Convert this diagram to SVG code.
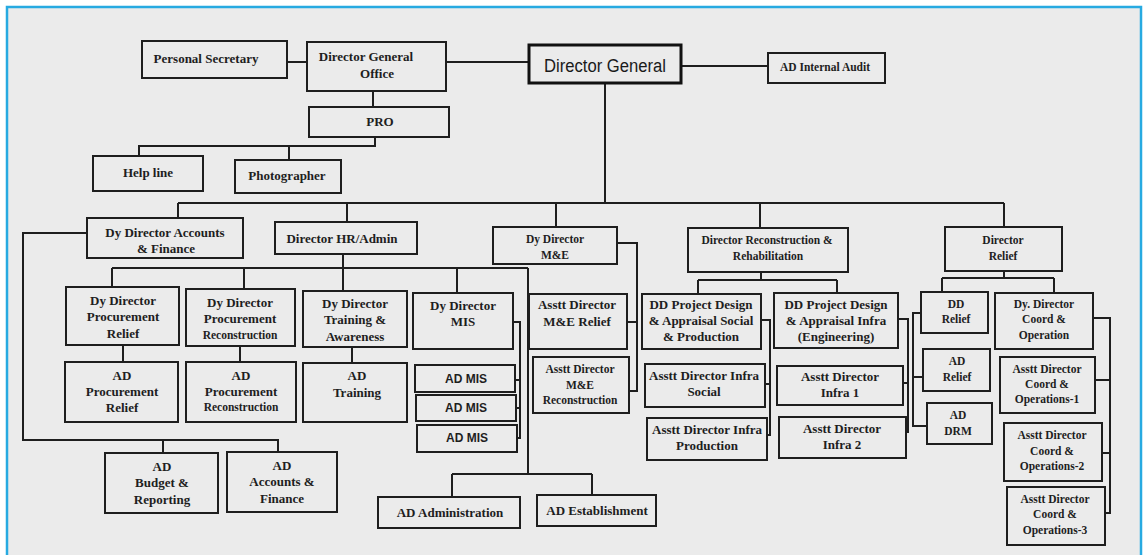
<svg xmlns="http://www.w3.org/2000/svg" width="1148" height="555" viewBox="0 0 1148 555">
<style>
.bx{fill:none;stroke:#1e1e1e;stroke-width:2}
.c{fill:none;stroke:#1e1e1e;stroke-width:2}
.t{font-family:"Liberation Serif",serif;font-weight:bold;font-size:13px;fill:#1e1e1e;text-anchor:middle}
.sm{font-size:11.5px}
.sa{font-family:"Liberation Sans",sans-serif;font-size:12px}
</style>
<rect x="0" y="0" width="1148" height="555" fill="#ffffff"/>
<rect x="7" y="7" width="1134" height="560" fill="#ebebeb" stroke="#27aae1" stroke-width="2.5"/>

<g id="connectors">
<path class="c" d="M287 62H307"/>
<path class="c" d="M446 62H529"/>
<path class="c" d="M681 66H768"/>
<path class="c" d="M373 91V107"/>
<path class="c" d="M375 137V146H139V156M289 146V160"/>
<path class="c" d="M605 83V203"/>
<path class="c" d="M178 203H1004M178 203V218M347 203V222M556 203V227M760 203V228M1004 203V227"/>
<path class="c" d="M87 233H23V440H278V452M163 440V453"/>
<path class="c" d="M343 254V291M112 268H528M112 268V287M244 268V289M457 268V293M528 268V474M452 474H592M452 474V497M592 474V495"/>
<path class="c" d="M123 345V362M240 346V362M352 347V363"/>
<path class="c" d="M513 322H520V438H517M515 380H520M516 408H520"/>
<path class="c" d="M617 243H637V391H629M627 322H637"/>
<path class="c" d="M761 272V280M698 280H837M698 280V294M837 280V293"/>
<path class="c" d="M761 320H770V435H767M765 384H770"/>
<path class="c" d="M898 319H908V432H906M903 383H908"/>
<path class="c" d="M1004 271V278M942 278H1054M942 278V292M1054 278V293"/>
<path class="c" d="M921 313H913V426H927M913 377H923"/>
<path class="c" d="M1093 318H1110V513H1105M1095 380H1110M1102 453H1110"/>
</g>

<g id="personal-secretary"><rect class="bx" x="142" y="41" width="145" height="37"/><text class="t" x="206" y="63">Personal Secretary</text></g>
<g id="dg-office"><rect class="bx" x="307" y="42" width="139" height="49"/><text class="t" x="366" y="61">Director General</text><text class="t" x="377" y="78">Office</text></g>
<g id="director-general"><rect x="529" y="45" width="152" height="38" fill="none" stroke="#111" stroke-width="3"/><text x="605" y="72" font-family="Liberation Sans,sans-serif" font-size="18" fill="#1a1a1a" text-anchor="middle" textLength="122" lengthAdjust="spacingAndGlyphs">Director General</text></g>
<g id="ad-internal-audit"><rect class="bx" x="768" y="53" width="117" height="30"/><text class="t sm" x="825" y="71">AD Internal Audit</text></g>
<g id="pro"><rect class="bx" x="309" y="107" width="140" height="30"/><text class="t" x="380" y="126">PRO</text></g>
<g id="help-line"><rect class="bx" x="93" y="156" width="110" height="35"/><text class="t" x="148" y="177">Help line</text></g>
<g id="photographer"><rect class="bx" x="235" y="160" width="106" height="33"/><text class="t" x="287" y="180">Photographer</text></g>

<g id="dd-accounts"><rect class="bx" x="87" y="218" width="156" height="40"/><text class="t" x="165" y="237">Dy Director Accounts</text><text class="t" x="166" y="253">&amp; Finance</text></g>
<g id="director-hr"><rect class="bx" x="275" y="222" width="142" height="32"/><text class="t" x="342" y="243">Director HR/Admin</text></g>
<g id="dd-me"><rect class="bx" x="493" y="227" width="124" height="37"/><text class="t sm" x="555" y="243">Dy Director</text><text class="t sm" x="555" y="259">M&amp;E</text></g>
<g id="director-recon"><rect class="bx" x="688" y="228" width="160" height="44"/><text class="t sm" x="767" y="244">Director Reconstruction &amp;</text><text class="t sm" x="768" y="260">Rehabilitation</text></g>
<g id="director-relief"><rect class="bx" x="945" y="227" width="117" height="44"/><text class="t sm" x="1003" y="244">Director</text><text class="t sm" x="1003" y="260">Relief</text></g>

<g id="dd-proc-relief"><rect class="bx" x="66" y="287" width="113" height="58"/><text class="t" x="123" y="305">Dy Director</text><text class="t" x="123" y="321">Procurement</text><text class="t" x="123" y="338">Relief</text></g>
<g id="dd-proc-recon"><rect class="bx" x="186" y="289" width="109" height="57"/><text class="t" x="240" y="307">Dy Director</text><text class="t" x="240" y="323">Procurement</text><text class="t sm" x="240" y="339">Reconstruction</text></g>
<g id="dd-training"><rect class="bx" x="303" y="291" width="104" height="56"/><text class="t" x="355" y="308">Dy Director</text><text class="t" x="355" y="324">Training &amp;</text><text class="t" x="355" y="341">Awareness</text></g>
<g id="dd-mis"><rect class="bx" x="413" y="293" width="100" height="56"/><text class="t" x="463" y="310">Dy Director</text><text class="t" x="463" y="326">MIS</text></g>

<g id="ad-proc-relief"><rect class="bx" x="65" y="362" width="113" height="60"/><text class="t" x="122" y="380">AD</text><text class="t" x="122" y="396">Procurement</text><text class="t" x="122" y="412">Relief</text></g>
<g id="ad-proc-recon"><rect class="bx" x="186" y="362" width="110" height="60"/><text class="t" x="241" y="380">AD</text><text class="t" x="241" y="396">Procurement</text><text class="t sm" x="241" y="411">Reconstruction</text></g>
<g id="ad-training"><rect class="bx" x="303" y="363" width="104" height="59"/><text class="t" x="357" y="380">AD</text><text class="t" x="357" y="397">Training</text></g>

<g id="ad-mis-1"><rect class="bx" x="415" y="365" width="100" height="27"/><text class="t sa" x="466" y="383">AD MIS</text></g>
<g id="ad-mis-2"><rect class="bx" x="416" y="395" width="100" height="26"/><text class="t sa" x="466" y="412">AD MIS</text></g>
<g id="ad-mis-3"><rect class="bx" x="417" y="425" width="100" height="27"/><text class="t sa" x="467" y="442">AD MIS</text></g>

<g id="ad-me-relief"><rect class="bx" x="529" y="294" width="98" height="55"/><text class="t" x="577" y="309">Asstt Director</text><text class="t" x="577" y="326">M&amp;E Relief</text></g>
<g id="ad-me-recon"><rect class="bx" x="533" y="357" width="96" height="56"/><text class="t sm" x="580" y="373">Asstt Director</text><text class="t sm" x="580" y="389">M&amp;E</text><text class="t sm" x="580" y="404">Reconstruction</text></g>

<g id="dd-design-social"><rect class="bx" x="642" y="294" width="119" height="55"/><text class="t" x="701" y="309">DD Project Design</text><text class="t" x="701" y="325">&amp; Appraisal Social</text><text class="t" x="701" y="341">&amp; Production</text></g>
<g id="dd-design-infra"><rect class="bx" x="774" y="293" width="124" height="55"/><text class="t" x="836" y="309">DD Project Design</text><text class="t" x="836" y="325">&amp; Appraisal Infra</text><text class="t" x="836" y="341">(Engineering)</text></g>
<g id="ad-infra-social"><rect class="bx" x="645" y="364" width="120" height="43"/><text class="t" x="704" y="380">Asstt Director Infra</text><text class="t" x="704" y="396">Social</text></g>
<g id="ad-infra-production"><rect class="bx" x="647" y="418" width="120" height="42"/><text class="t" x="707" y="434">Asstt Director Infra</text><text class="t" x="707" y="450">Production</text></g>
<g id="ad-infra-1"><rect class="bx" x="777" y="366" width="126" height="39"/><text class="t" x="840" y="381">Asstt Director</text><text class="t" x="840" y="397">Infra 1</text></g>
<g id="ad-infra-2"><rect class="bx" x="779" y="417" width="127" height="41"/><text class="t" x="842" y="433">Asstt Director</text><text class="t" x="842" y="449">Infra 2</text></g>

<g id="dd-relief"><rect class="bx" x="921" y="292" width="67" height="41"/><text class="t sm" x="956" y="308">DD</text><text class="t sm" x="956" y="323">Relief</text></g>
<g id="ad-relief"><rect class="bx" x="923" y="349" width="67" height="42"/><text class="t sm" x="957" y="365">AD</text><text class="t sm" x="957" y="381">Relief</text></g>
<g id="ad-drm"><rect class="bx" x="927" y="403" width="65" height="41"/><text class="t sm" x="958" y="419">AD</text><text class="t sm" x="958" y="435">DRM</text></g>
<g id="dd-coord"><rect class="bx" x="995" y="293" width="98" height="56"/><text class="t sm" x="1044" y="308">Dy. Director</text><text class="t sm" x="1044" y="323">Coord &amp;</text><text class="t sm" x="1044" y="339">Operation</text></g>
<g id="ad-coord-1"><rect class="bx" x="1000" y="357" width="95" height="56"/><text class="t sm" x="1047" y="373">Asstt Director</text><text class="t sm" x="1047" y="388">Coord &amp;</text><text class="t sm" x="1047" y="403">Operations-1</text></g>
<g id="ad-coord-2"><rect class="bx" x="1004" y="423" width="98" height="58"/><text class="t sm" x="1052" y="439">Asstt Director</text><text class="t sm" x="1052" y="455">Coord &amp;</text><text class="t sm" x="1052" y="470">Operations-2</text></g>
<g id="ad-coord-3"><rect class="bx" x="1007" y="487" width="98" height="58"/><text class="t sm" x="1055" y="503">Asstt Director</text><text class="t sm" x="1055" y="518">Coord &amp;</text><text class="t sm" x="1055" y="534">Operations-3</text></g>

<g id="ad-budget"><rect class="bx" x="105" y="453" width="113" height="60"/><text class="t" x="162" y="471">AD</text><text class="t" x="162" y="487">Budget &amp;</text><text class="t" x="162" y="504">Reporting</text></g>
<g id="ad-accounts"><rect class="bx" x="227" y="452" width="110" height="60"/><text class="t" x="282" y="470">AD</text><text class="t" x="282" y="486">Accounts &amp;</text><text class="t" x="282" y="503">Finance</text></g>
<g id="ad-administration"><rect class="bx" x="378" y="497" width="142" height="31"/><text class="t" x="450" y="517">AD Administration</text></g>
<g id="ad-establishment"><rect class="bx" x="537" y="495" width="119" height="31"/><text class="t" x="597" y="515">AD Establishment</text></g>
</svg>
